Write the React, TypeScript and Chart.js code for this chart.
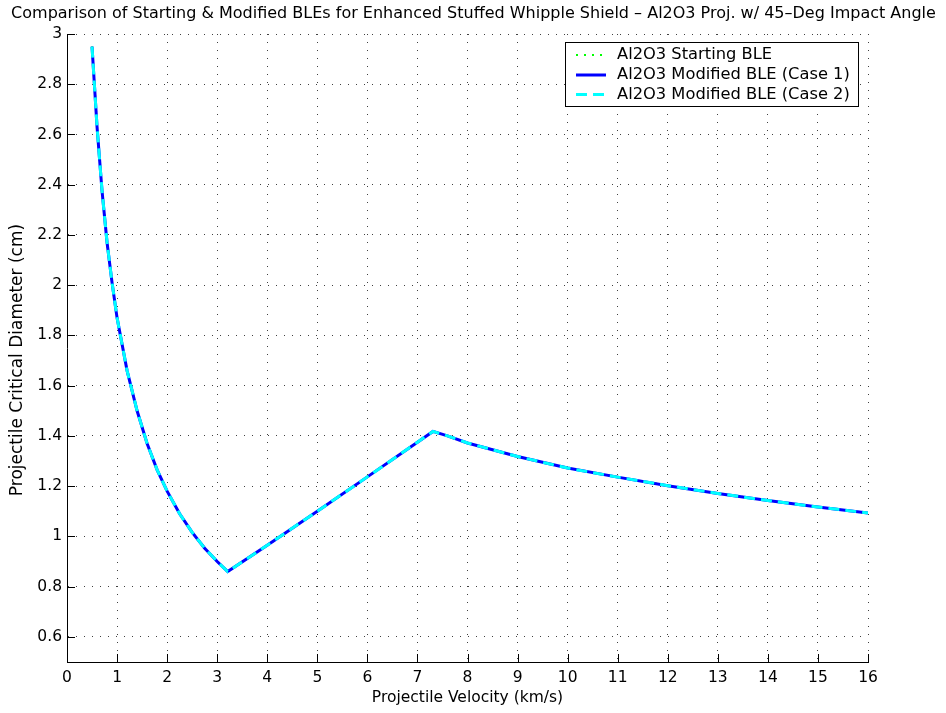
import React, { useEffect, useRef } from 'react';
import { Chart, registerables } from 'chart.js';

Chart.register(...registerables);

// ---------- data ----------
const velocity = [
  0.5, 0.55, 0.6, 0.7, 0.8, 0.9, 1.0, 1.2, 1.4, 1.6, 1.8, 2.0, 2.25, 2.5, 2.75, 3.0, 3.21,
  4, 5, 6, 7, 7.31, 7.6, 8, 9, 10, 11, 12, 13, 14, 15, 16,
];
const startingBLE = [
  2.95, 2.79, 2.63, 2.375, 2.17, 2.01, 1.87, 1.66, 1.5, 1.37, 1.265, 1.18, 1.09, 1.016, 0.953, 0.9, 0.86,
  0.965, 1.1, 1.237, 1.375, 1.418, 1.4, 1.372, 1.318, 1.272, 1.236, 1.202, 1.171, 1.143, 1.117, 1.093,
];
const modifiedCase1 = [
  2.95, 2.79, 2.63, 2.375, 2.17, 2.01, 1.87, 1.66, 1.5, 1.37, 1.265, 1.18, 1.09, 1.016, 0.953, 0.9, 0.86,
  0.965, 1.1, 1.237, 1.375, 1.418, 1.4, 1.372, 1.318, 1.272, 1.236, 1.202, 1.171, 1.143, 1.117, 1.093,
];
const modifiedCase2 = [
  2.95, 2.79, 2.63, 2.375, 2.17, 2.01, 1.87, 1.66, 1.5, 1.37, 1.265, 1.18, 1.09, 1.016, 0.953, 0.9, 0.86,
  0.965, 1.1, 1.237, 1.375, 1.418, 1.4, 1.372, 1.318, 1.272, 1.236, 1.202, 1.171, 1.143, 1.117, 1.093,
];
const xTicks = [0, 1, 2, 3, 4, 5, 6, 7, 8, 9, 10, 11, 12, 13, 14, 15, 16];
const yTicks = [0.6, 0.8, 1, 1.2, 1.4, 1.6, 1.8, 2, 2.2, 2.4, 2.6, 2.8, 3];
const seriesLabels = [
  'Al2O3 Starting BLE',
  'Al2O3 Modified BLE (Case 1)',
  'Al2O3 Modified BLE (Case 2)',
];
const titleText =
  'Comparison of Starting & Modified BLEs for Enhanced Stuffed Whipple Shield \u2013 Al2O3 Proj. w/ 45\u2013Deg Impact Angle';
const xLabel = 'Projectile Velocity (km/s)';
const yLabel = 'Projectile Critical Diameter (cm)';

const FONT_FAMILY = '"DejaVu Sans", "Liberation Sans", Arial, sans-serif';
const FONT_SIZE = 15.5;
const W = 946;
const H = 713;

const toPoints = (ys: number[]) => velocity.map((x, i) => ({ x, y: ys[i] }));
const fmt = (v: number) => String(Number(v.toFixed(2)));

const decorPlugin = {
  id: 'matlabDecor',
  afterDraw(chart: any) {
    const { ctx, chartArea, scales } = chart;
    const xs = scales.x;
    const ys = scales.y;
    ctx.save();
    // inward ticks
    ctx.strokeStyle = '#000';
    ctx.lineWidth = 1;
    ctx.setLineDash([]);
    ctx.beginPath();
    xTicks.forEach((v) => {
      const px = Math.round(xs.getPixelForValue(v)) + 0.5;
      ctx.moveTo(px, chartArea.bottom);
      ctx.lineTo(px, chartArea.bottom - 8);
    });
    yTicks.forEach((v) => {
      const py = Math.round(ys.getPixelForValue(v)) + 0.5;
      ctx.moveTo(chartArea.left, py);
      ctx.lineTo(chartArea.left + 8, py);
    });
    ctx.stroke();

    // title (fit to the measured span of the original title)
    ctx.fillStyle = '#000';
    ctx.font = `16px ${FONT_FAMILY}`;
    ctx.textAlign = 'center';
    ctx.textBaseline = 'middle';
    const tw = ctx.measureText(titleText).width;
    const target = 937;
    ctx.save();
    ctx.translate(473.5, 14);
    if (tw > target) ctx.scale(target / tw, 1);
    ctx.fillText(titleText, 0, 0);
    ctx.restore();

    // y-axis label
    ctx.save();
    ctx.font = `17px ${FONT_FAMILY}`;
    ctx.translate(18, 360);
    ctx.rotate(-Math.PI / 2);
    ctx.textAlign = 'center';
    ctx.textBaseline = 'middle';
    ctx.fillStyle = '#000';
    ctx.fillText(yLabel, 0, 0);
    ctx.restore();

    // legend
    const bx = 565.5;
    const by = 42.5;
    const bw = 293;
    const bh = 64;
    ctx.fillStyle = '#fff';
    ctx.fillRect(bx, by, bw, bh);
    ctx.strokeStyle = '#000';
    ctx.lineWidth = 1;
    ctx.strokeRect(bx, by, bw, bh);
    const rows = [55, 75, 94.5];
    chart.data.datasets.forEach((ds: any, i: number) => {
      const y = rows[i];
      ctx.save();
      ctx.strokeStyle = ds.borderColor;
      ctx.lineWidth = ds.borderWidth;
      ctx.setLineDash(ds.borderDash || []);
      ctx.beginPath();
      ctx.moveTo(576, y);
      ctx.lineTo(606, y);
      ctx.stroke();
      ctx.restore();
      ctx.fillStyle = '#000';
      ctx.font = `16.3px ${FONT_FAMILY}`;
      ctx.textAlign = 'left';
      ctx.textBaseline = 'middle';
      ctx.fillText(ds.label, 617, y);
    });
    ctx.restore();
  },
};

export default function App() {
  const canvasRef = useRef<HTMLCanvasElement | null>(null);

  useEffect(() => {
    if (!canvasRef.current) return;
    const tickFont = { family: FONT_FAMILY, size: FONT_SIZE };
    const chart = new Chart(canvasRef.current, {
      type: 'line',
      data: {
        datasets: [
          {
            label: seriesLabels[0],
            data: toPoints(startingBLE),
            borderColor: '#00ff00',
            borderWidth: 2,
            borderDash: [2, 6],
            pointRadius: 0,
            fill: false,
            tension: 0,
            order: 3,
          },
          {
            label: seriesLabels[1],
            data: toPoints(modifiedCase1),
            borderColor: '#0000ff',
            borderWidth: 3,
            pointRadius: 0,
            fill: false,
            tension: 0,
            order: 2,
          },
          {
            label: seriesLabels[2],
            data: toPoints(modifiedCase2),
            borderColor: '#00ffff',
            borderWidth: 3,
            borderDash: [11, 6],
            pointRadius: 0,
            fill: false,
            tension: 0,
            order: 1,
          },
        ],
      },
      options: {
        animation: false,
        responsive: false,
        devicePixelRatio: 1,
        layout: { padding: { top: 34, right: 78, left: 0, bottom: 0 } },
        plugins: {
          legend: { display: false },
          title: { display: false },
          tooltip: { enabled: false },
        },
        scales: {
          x: {
            type: 'linear',
            min: 0,
            max: 16,
            afterBuildTicks: (s: any) => {
              s.ticks = xTicks.map((v) => ({ value: v }));
            },
            afterFit: (s: any) => {
              s.height = 51;
            },
            grid: { color: 'rgba(0,0,0,0.75)', lineWidth: 1, drawTicks: false },
            border: { display: true, color: '#000', width: 1, dash: [1, 7] },
            ticks: {
              padding: 7,
              color: '#000',
              font: tickFont,
              maxRotation: 0,
              autoSkip: false,
              callback: (v: any) => fmt(Number(v)),
            },
            title: {
              display: true,
              text: xLabel,
              color: '#000',
              font: tickFont,
              padding: { top: 0, bottom: 6 },
            },
          },
          y: {
            type: 'linear',
            min: 0.5,
            max: 3,
            afterBuildTicks: (s: any) => {
              s.ticks = yTicks.map((v) => ({ value: v }));
            },
            afterFit: (s: any) => {
              s.width = 67;
            },
            grid: { color: 'rgba(0,0,0,0.75)', lineWidth: 1, drawTicks: false },
            border: { display: true, color: '#000', width: 1, dash: [1, 7] },
            ticks: {
              padding: 5,
              color: '#000',
              font: tickFont,
              autoSkip: false,
              callback: (v: any) => fmt(Number(v)),
            },
            title: { display: false },
          },
        },
      },
      plugins: [decorPlugin],
    } as any);
    return () => chart.destroy();
  }, []);

  return (
    <div style={{ position: 'absolute', left: 0, top: 0, width: W, height: H, background: '#fff' }}>
      <canvas ref={canvasRef} width={W} height={H} style={{ display: 'block', width: W, height: H }} />
    </div>
  );
}
